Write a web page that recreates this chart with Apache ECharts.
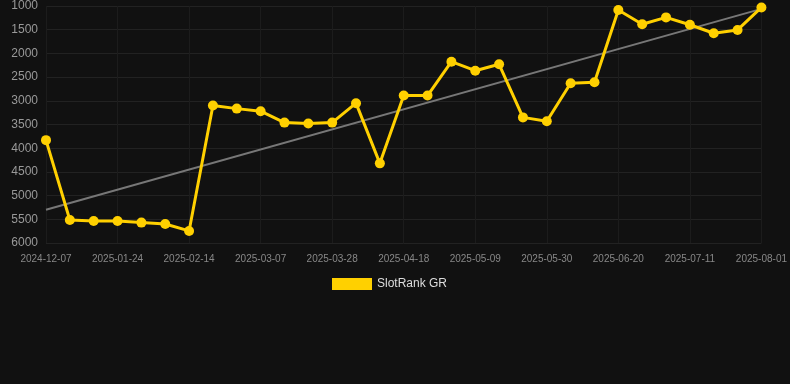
<!DOCTYPE html>
<html>
<head>
<meta charset="utf-8">
<script src="https://cdn.jsdelivr.net/npm/echarts@6/dist/echarts.min.js"></script>
<style>
  html, body { margin: 0; padding: 0; background: #111111; }
  #chart { width: 790px; height: 384px; }
</style>
</head>
<body>
<div id="chart"></div>
<script>
var dates = ['2024-12-07', '2025-01-10', '2025-01-17', '2025-01-24', '2025-01-31', '2025-02-07',
  '2025-02-14', '2025-02-21', '2025-02-28', '2025-03-07', '2025-03-14', '2025-03-21',
  '2025-03-28', '2025-04-04', '2025-04-11', '2025-04-18', '2025-04-25', '2025-05-02',
  '2025-05-09', '2025-05-16', '2025-05-23', '2025-05-30', '2025-06-06', '2025-06-13',
  '2025-06-20', '2025-06-27', '2025-07-04', '2025-07-11', '2025-07-18', '2025-07-25',
  '2025-08-01'];
var ranks = [3830, 5515, 5535, 5535, 5570, 5600, 5745, 3100, 3165, 3220, 3460, 3480,
  3460, 3050, 4320, 2890, 2890, 2175, 2365, 2230, 3350, 3430, 2630, 2610,
  1085, 1385, 1240, 1395, 1575, 1505, 1030];
// trend line ends
var trendEnds = [5300, 1060];

var trend = dates.map(function (d, i) {
  if (i === 0) return trendEnds[0];
  if (i === dates.length - 1) return trendEnds[1];
  return null;
});

var myChart = echarts.init(document.getElementById('chart'));
myChart.setOption({
  backgroundColor: '#111111',
  animation: false,
  grid: { left: 46, right: 28, top: 6, bottom: 141 },
  legend: {
    data: ['SlotRank GR'],
    top: 273,
    left: 327,
    itemWidth: 40,
    itemHeight: 12,
    icon: 'rect',
    textStyle: { color: '#dddddd', fontSize: 12 }
  },
  xAxis: {
    type: 'category',
    data: dates,
    boundaryGap: false,
    axisLine: { show: false },
    axisTick: { show: false },
    axisLabel: { color: '#888888', fontSize: 10, interval: 2, margin: 11 },
    splitLine: { show: true, interval: 2, lineStyle: { color: '#1c1c1c' } }
  },
  yAxis: {
    type: 'value',
    inverse: true,
    min: 1000,
    max: 6000,
    interval: 500,
    axisLine: { show: false },
    axisTick: { show: false },
    axisLabel: {
      color: '#999999', fontSize: 12, margin: 8,
      formatter: function (v) { return String(v); }
    },
    splitLine: { lineStyle: { color: '#222222' } }
  },
  series: [
    {
      name: 'SlotRank GR',
      type: 'line',
      data: ranks,
      color: '#ffd000',
      symbol: 'circle',
      symbolSize: 10,
      lineStyle: { width: 3, color: '#ffd000' },
      itemStyle: { color: '#ffd000' },
      z: 3
    },
    {
      name: 'trend',
      type: 'line',
      data: trend,
      connectNulls: true,
      symbol: 'none',
      lineStyle: { width: 2, color: '#777777' },
      z: 2
    }
  ]
});
</script>
</body>
</html>
